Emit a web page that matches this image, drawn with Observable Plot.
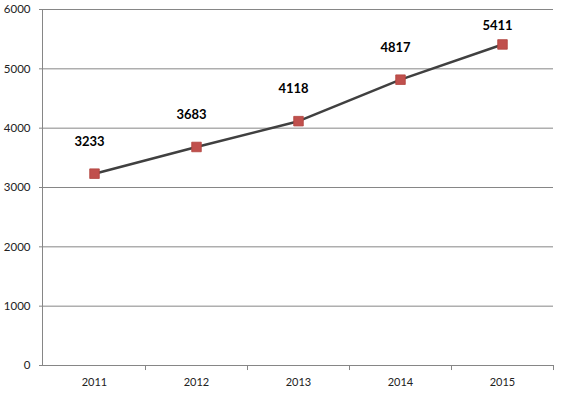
<!DOCTYPE html>
<html>
<head>
<meta charset="utf-8">
<script src="https://cdn.jsdelivr.net/npm/d3@7"></script>
<script src="https://cdn.jsdelivr.net/npm/@observablehq/plot@0.6"></script>
<style>
  html, body { margin: 0; padding: 0; background: #fff; }
  #chart svg { display: block; }
</style>
</head>
<body>
<div id="chart"></div>
<script>
const years = ["2011", "2012", "2013", "2014", "2015"];
const values = [3233, 3683, 4118, 4817, 5411];
const yTicks = [0, 1000, 2000, 3000, 4000, 5000, 6000];

const data = years.map((year, i) => ({year, value: values[i]}));

const chart = Plot.plot({
  width: 563,
  height: 396,
  marginLeft: 42,
  marginRight: 10,
  marginTop: 9,
  marginBottom: 31,
  style: {fontFamily: "Lato, 'Open Sans', sans-serif", background: "#fff"},
  x: {type: "band", domain: years, paddingInner: 0, paddingOuter: 0, label: null},
  y: {domain: [0, 6000], label: null},
  marks: [
    Plot.gridY(yTicks, {stroke: "#868686", strokeOpacity: 1}),
    Plot.frame({anchor: "left", stroke: "#868686"}),
    Plot.ruleY([0], {stroke: "#868686"}),
    Plot.ruleX(years, {x: d => d, dx: 51, y1: 0, y2: -85, stroke: "#868686"}),
    Plot.axisY(yTicks, {tickSize: 3, tickPadding: 9, fontSize: 11.5, fill: "#222", stroke: "#868686", tickFormat: d3.format("d"), label: null}),
    Plot.axisX({tickSize: 0, tickPadding: 13, fontSize: 11, fill: "#222", label: null}),
    Plot.line(data, {x: "year", y: "value", stroke: "#404040", strokeWidth: 2.5}),
    Plot.dot(data, {x: "year", y: "value", symbol: "square", r: 5.4, fill: "#c0504d", stroke: "#b3443f", strokeWidth: 0.8}),
    Plot.text(data, {x: "year", y: d => Math.min(d.value + 545, 5730), text: d => String(d.value), dx: -5, fontSize: 13, fontWeight: "bold", fill: "#000"})
  ]
});
document.getElementById("chart").append(chart);
</script>
</body>
</html>
